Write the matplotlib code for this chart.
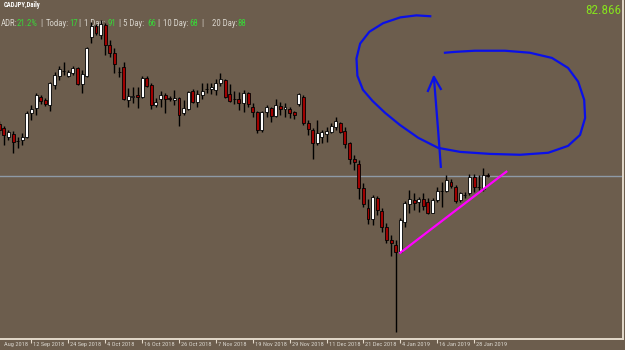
import matplotlib
matplotlib.use("Agg")
import matplotlib.pyplot as plt
import matplotlib.transforms as mtransforms
from matplotlib import font_manager
import numpy as np

symbol = "CADJPY,Daily"
last_price = "82.866"
adr_names = ["ADR:", "Today:", "1 Day:", "5 Day:", "10 Day:", "20 Day:"]
adr_values = ["21.2%", "17", "91", "66", "68", "88"]

# first label is cut at the left edge in the original, only "Aug 2018" shows
first_label = "Aug 2018"
date_labels = ["12 Sep 2018", "24 Sep 2018", "4 Oct 2018", "16 Oct 2018",
               "26 Oct 2018", "7 Nov 2018", "19 Nov 2018", "29 Nov 2018", "11 Dec 2018",
               "21 Dec 2018", "4 Jan 2019", "16 Jan 2019", "28 Jan 2019"]
date_bars = [7, 15, 23, 31, 39, 47, 55, 63, 71, 79, 87, 95, 103]

# daily candles, 3 Sep 2018 .. 31 Jan 2019
opens = [84.68, 84.54, 84.22, 84.33, 84.08, 84.12, 84.22, 85.06, 85.23, 85.61,
         85.51, 85.34, 86.03, 86.35, 86.52, 86.35, 86.45, 86.62, 86.07, 86.35,
         87.70, 88.09, 87.77, 88.12, 87.42, 87.15, 86.48, 86.66, 85.51, 85.61,
         85.68, 85.61, 86.28, 86.03, 85.34, 85.55, 85.68, 85.56, 85.51, 85.58,
         85.06, 85.20, 85.82, 85.44, 85.68, 85.89, 85.89, 85.86, 86.10, 86.21,
         85.72, 85.55, 85.55, 85.41, 85.75, 85.27, 85.09, 84.47, 85.09, 85.23,
         84.95, 85.30, 85.20, 85.20, 85.09, 85.37, 85.61, 84.71, 84.47, 84.01,
         84.22, 84.33, 84.40, 84.57, 84.71, 84.43, 84.01, 83.46, 83.28, 82.45,
         81.75, 81.37, 82.10, 81.65, 81.09, 80.64, 80.46, 80.22, 81.26, 81.89,
         82.03, 81.96, 82.07, 81.96, 81.58, 82.03, 82.34, 82.34, 82.66, 82.48,
         82.03, 82.20, 82.27, 82.83, 82.48, 82.41, 82.90]
highs = [84.78, 84.61, 84.47, 84.43, 84.22, 84.36, 85.13, 85.34, 85.75, 85.68,
         85.58, 86.14, 86.48, 86.69, 86.83, 86.55, 86.69, 86.66, 86.55, 87.35,
         88.22, 88.15, 88.29, 88.19, 87.60, 87.32, 86.66, 86.83, 85.93, 85.96,
         85.96, 86.35, 86.35, 86.10, 85.58, 85.82, 85.75, 85.65, 85.86, 85.61,
         85.51, 85.82, 85.89, 85.86, 86.10, 86.10, 86.10, 86.24, 86.45, 86.24,
         86.07, 85.82, 85.79, 85.86, 85.79, 85.41, 85.11, 85.13, 85.34, 85.27,
         85.55, 85.44, 85.41, 85.27, 85.13, 85.75, 85.68, 84.81, 84.54, 84.81,
         84.47, 84.57, 84.71, 84.92, 84.75, 84.57, 84.05, 83.60, 83.42, 82.62,
         82.07, 82.20, 82.17, 81.75, 81.23, 80.81, 80.64, 81.40, 82.00, 82.38,
         82.27, 82.13, 82.27, 82.10, 82.10, 82.48, 82.66, 82.90, 82.76, 82.55,
         82.31, 82.31, 82.93, 82.93, 82.90, 83.14, 82.97]
lows = [84.33, 83.95, 84.12, 83.67, 83.84, 83.95, 84.19, 84.81, 84.99, 85.37,
        85.30, 85.13, 85.89, 86.21, 86.38, 86.31, 86.38, 86.03, 85.75, 86.31,
        87.49, 87.77, 87.63, 87.08, 87.01, 86.45, 86.31, 85.51, 85.27, 85.41,
        85.23, 85.58, 85.96, 85.20, 85.27, 85.27, 85.06, 85.48, 85.34, 84.61,
        84.99, 85.16, 85.41, 85.27, 85.55, 85.75, 85.72, 85.68, 86.00, 85.58,
        85.44, 85.37, 85.16, 85.09, 85.27, 84.92, 84.36, 84.40, 84.92, 84.75,
        84.92, 84.99, 84.92, 84.88, 84.85, 85.30, 84.64, 84.29, 83.46, 83.95,
        84.01, 84.05, 84.36, 84.47, 84.36, 83.84, 83.28, 83.07, 82.07, 81.79,
        81.19, 81.16, 81.51, 80.92, 80.53, 80.08, 77.44, 80.19, 81.09, 81.58,
        81.68, 81.61, 81.68, 81.54, 81.56, 81.96, 81.79, 82.31, 82.45, 81.93,
        81.96, 82.10, 82.20, 82.31, 82.38, 82.34, 82.83]
closes = [84.47, 84.29, 84.40, 84.05, 84.07, 84.22, 85.06, 85.20, 85.68, 85.48,
          85.37, 86.10, 86.38, 86.59, 86.51, 86.48, 86.62, 86.07, 86.42, 87.32,
          88.09, 87.84, 88.15, 87.42, 87.15, 86.76, 86.47, 85.55, 85.65, 85.65,
          85.61, 86.28, 86.00, 85.34, 85.44, 85.68, 85.55, 85.54, 85.58, 84.99,
          85.23, 85.79, 85.44, 85.72, 85.82, 85.90, 85.96, 86.10, 86.24, 85.61,
          85.48, 85.54, 85.41, 85.75, 85.37, 85.09, 84.47, 85.09, 85.27, 84.95,
          85.34, 85.20, 85.27, 85.06, 84.99, 85.72, 84.71, 84.50, 84.01, 84.36,
          84.40, 84.43, 84.61, 84.78, 84.40, 83.98, 83.46, 83.35, 82.45, 81.89,
          81.37, 82.13, 81.68, 81.09, 80.64, 80.53, 80.22, 81.33, 81.93, 82.07,
          81.93, 82.07, 81.82, 81.58, 82.03, 82.34, 82.33, 82.73, 82.52, 82.00,
          82.27, 82.21, 82.83, 82.48, 82.49, 82.90, 82.866]

# magenta trend line
trend_bars = [87, 110]
trend_prices = [80.19, 83.01]

# blue hand drawn loop and arrow
loop_bars = [93.5, 90.5, 87.0, 83.3, 80.3, 78.3, 77.5, 77.7, 78.9, 81.0, 83.7, 86.9, 90.9,
             95.2, 100.0, 106.5, 113.0, 119.1, 123.4, 126.0, 127.1, 126.9, 125.6,
             123.4, 119.9, 115.1, 109.7, 103.2, 98.9, 96.7]
loop_prices = [88.42, 88.45, 88.38, 88.18, 87.88, 87.47, 86.95, 86.35, 85.86, 85.47, 85.06,
               84.64, 84.19, 83.84, 83.70, 83.63, 83.60, 83.67, 83.91, 84.29, 84.88,
               85.51, 86.14, 86.62, 86.97, 87.15, 87.22, 87.22, 87.18, 87.15]
arrow_bars = [95.8, 95.2, 94.3]
arrow_prices = [83.18, 84.47, 86.28]
head_bars = [93.0, 94.3, 95.8]
head_prices = [85.82, 86.31, 85.89]

bg = "#6c5d4d"
light = "#e4dacb"
label_col = "#d8d4cc"
green = "#38d838"

names = {f.name for f in font_manager.fontManager.ttflist}
font = next(n for n in ["Liberation Sans Narrow", "DejaVu Sans Condensed", "Roboto Condensed", "DejaVu Sans"] if n in names)

fig = plt.figure(figsize=(6.25, 3.5), dpi=100, facecolor=bg)
ax = fig.add_axes([0, 11 / 350, 622.6 / 625, 338 / 350])
ax.set_facecolor(bg)

x = np.arange(len(opens))
o = np.array(opens)
c = np.array(closes)
up = c >= o
ax.vlines(x, lows, highs, color="black", lw=1, zorder=3)
body = np.maximum(np.abs(c - o), 0.015)
ax.bar(x[up], body[up], bottom=o[up], width=0.64, color="white", edgecolor="black", lw=0.6, zorder=4)
ax.bar(x[~up], body[~up], bottom=c[~up], width=0.64, color="#a00000", edgecolor="black", lw=0.6, zorder=4)

ax.axhline(closes[-1], color="#8e9aa6", lw=1, zorder=2)
ax.plot(trend_bars, trend_prices, color="#ff00ff", lw=1.6, zorder=5)
ax.plot(loop_bars, loop_prices, color="#0a10e8", lw=1.6, zorder=6, solid_joinstyle="round")
ax.plot(arrow_bars, arrow_prices, color="#0a10e8", lw=1.6, zorder=6)
ax.plot(head_bars, head_prices, color="#0a10e8", lw=1.6, zorder=6, solid_joinstyle="round")

ax.set_xlim(0.17, 135.23)
ax.set_ylim(77.19, 88.95)
ax.set_yticks([])
ax.set_xticks(date_bars)
ax.set_xticklabels([])
ax.tick_params(axis="x", direction="out", length=3, color=light, width=0.8)
for s in ["top", "left"]:
    ax.spines[s].set_visible(False)
for s in ["bottom", "right"]:
    ax.spines[s].set_color(light)
    ax.spines[s].set_linewidth(1.4)

offset = mtransforms.ScaledTranslation(0.02, -0.055, fig.dpi_scale_trans)
for b, lab in zip(date_bars, date_labels):
    ax.text(b, 0, lab, transform=ax.get_xaxis_transform() + offset, ha="left", va="center",
            fontsize=4.6, color=label_col, family=font, clip_on=False)
ax.text(0.003, 0, first_label, transform=ax.transAxes + offset, ha="left", va="center",
        fontsize=4.6, color=label_col, family=font, clip_on=False)

ft = fig.transFigure
ax.text(4 / 625, 1 - 5 / 350, symbol, transform=ft, fontsize=4.8, color="white",
        fontweight="bold", family=font, va="center", zorder=1)
ax.text(621 / 625, 1 - 11 / 350, last_price, transform=ft, fontsize=9.5, color="#86e01e",
        family=font, ha="right", va="center", zorder=1)

name_x = [1, 46, 84, 123, 163, 212]
value_x = [17, 69, 107, 147, 189, 237]
bar_x = [40, 78, 118, 157, 201]
hy = 1 - 23.5 / 350
for i in range(len(adr_names)):
    ax.text(name_x[i] / 625, hy, adr_names[i], transform=ft, fontsize=6.3, color=label_col,
            family=font, va="center", zorder=1)
    ax.text(value_x[i] / 625, hy, adr_values[i], transform=ft, fontsize=6.3, color=green,
            family=font, va="center", zorder=1)
for bx in bar_x:
    ax.text(bx / 625, hy, "|", transform=ft, fontsize=6.3, color=label_col,
            family=font, va="center", zorder=1)

fig.savefig("out.png", dpi=100, facecolor=bg)
